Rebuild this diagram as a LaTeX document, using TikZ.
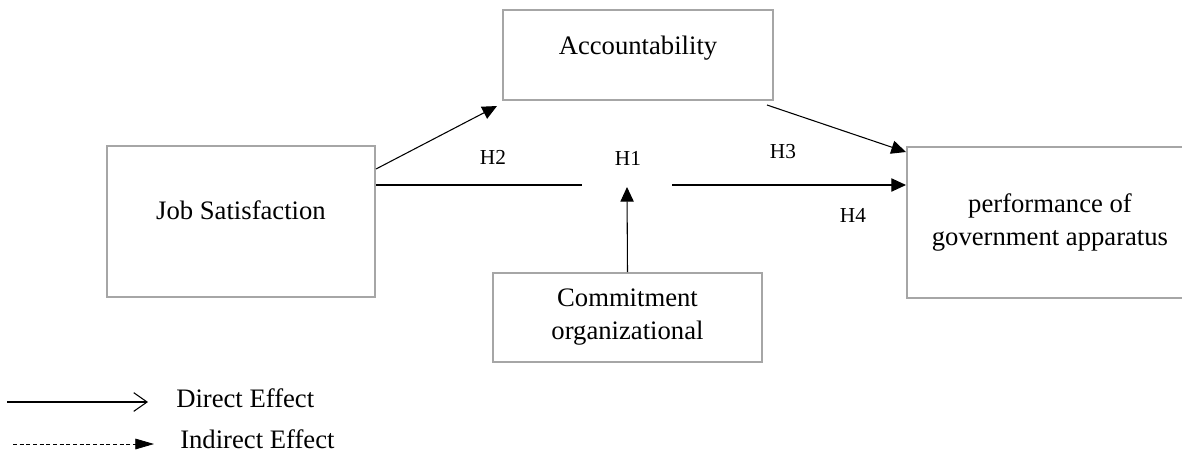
\documentclass[tikz,border=0pt]{standalone}
\usepackage{fontspec}
\setmainfont{Liberation Serif}
\usetikzlibrary{arrows.meta}

\begin{document}
\begin{tikzpicture}[x=0.75pt,y=-0.75pt,>={Triangle[length=11pt,width=10pt]},
        var box/.style={draw=black!35,line width=1.5pt,rectangle,inner sep=0pt,align=center,font=\fontsize{20}{24.75}\selectfont},
        hyp label/.style={font=\fontsize{16}{18}\selectfont,inner sep=0pt},
        legend label/.style={anchor=base west,inner sep=0pt,font=\fontsize{20}{24}\selectfont},
        link/.style={->,line width=0.8pt,black}]
    \useasboundingbox (0,0) rectangle (1182,454);
    \node[var box,minimum width=202.5pt,text height=33pt,text depth=34.5pt] (acc) at (638,9) [anchor=north]{Accountability};
    \node[var box,minimum width=201pt,text height=54.75pt,text depth=58.5pt] (js) at (241,145) [anchor=north]{Job Satisfaction};
    \node[var box,minimum width=214.5pt,minimum height=113.25pt] (perf) at (1050,222.5) {performance of\\government apparatus};
    \node[var box,minimum width=201.75pt,minimum height=66.75pt] (comm) at (627.5,317.5) {Commitment\\organizational};
    \coordinate (hub) at (627,185);
    \node[hyp label] (lbH2) at (493,157) {H2};
    \node[hyp label] (lbH1) at (628,158) {H1};
    \node[hyp label] (lbH3) at (783,152) {H3};
    \node[hyp label] (lbH4) at (853,215) {H4};
    \draw[link] ([yshift=-18pt]js.north east) -- ([xshift=-3.75pt,yshift=-3.75pt]acc.south west);
    \draw[link] ([xshift=-5.25pt,yshift=-3pt]acc.south east) -- ([yshift=-4.5pt]perf.north west);
    \draw[line width=0.8pt] (js.east |- hub) -- ([xshift=-33.75pt]hub);
    \draw[link] ([xshift=33.75pt]hub) -- (perf.west |- hub);
    \draw[link] (comm.north) -- ([yshift=-1.5pt]hub);
    \node[legend label] (dlab) at (176,407) {Direct Effect};
    \node[legend label] (ilab) at (180,448) {Indirect Effect};
    \coordinate (d0) at (7,402);
    \coordinate (d1) at (148,402);
    \coordinate (i0) at (13,444);
    \coordinate (i1) at (154,444);
    \draw[-{Straight Barb[length=10pt,width=14pt]},line width=0.8pt] (d0) -- (d1);
    \draw[-{Triangle[length=14pt,width=8pt]},line width=0.6pt,dash pattern=on 3pt off 2pt] (i0) -- (i1);
\end{tikzpicture}
\end{document}
